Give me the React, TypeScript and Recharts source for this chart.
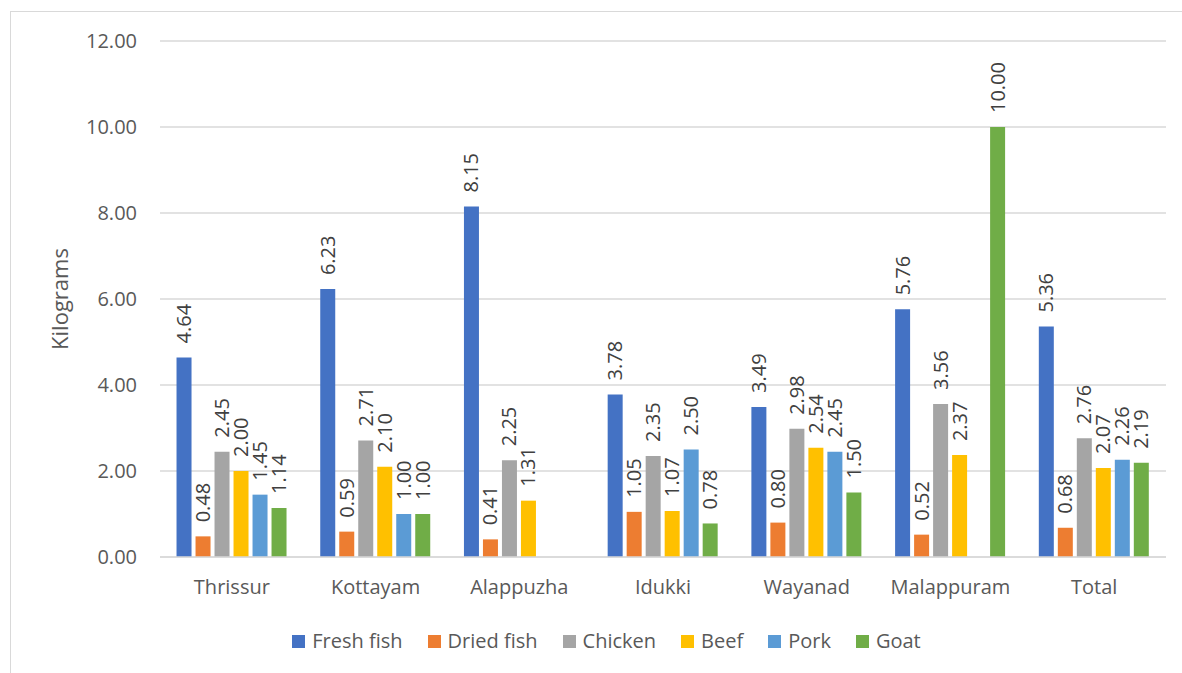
import { Bar, BarChart, CartesianGrid, LabelList, Legend, XAxis, YAxis } from 'recharts'

// per-capita monthly consumption by district, kilograms
const districts = ['Thrissur', 'Kottayam', 'Alappuzha', 'Idukki', 'Wayanad', 'Malappuram', 'Total']
const freshFish = [4.64, 6.23, 8.15, 3.78, 3.49, 5.76, 5.36]
const driedFish = [0.48, 0.59, 0.41, 1.05, 0.8, 0.52, 0.68]
const chicken = [2.45, 2.71, 2.25, 2.35, 2.98, 3.56, 2.76]
const beef = [2.0, 2.1, 1.31, 1.07, 2.54, 2.37, 2.07]
const pork = [1.45, 1.0, null, 2.5, 2.45, null, 2.26]
const goat = [1.14, 1.0, null, 0.78, 1.5, 10.0, 2.19]
const yTicks = [0, 2, 4, 6, 8, 10, 12]

const series = [
  { key: 'freshFish', name: 'Fresh fish', color: '#4472C4' },
  { key: 'driedFish', name: 'Dried fish', color: '#ED7D31' },
  { key: 'chicken', name: 'Chicken', color: '#A5A5A5' },
  { key: 'beef', name: 'Beef', color: '#FFC000' },
  { key: 'pork', name: 'Pork', color: '#5B9BD5' },
  { key: 'goat', name: 'Goat', color: '#70AD47' },
]

const data = districts.map((d, i) => ({
  district: d,
  freshFish: freshFish[i],
  driedFish: driedFish[i],
  chicken: chicken[i],
  beef: beef[i],
  pork: pork[i],
  goat: goat[i],
}))

const FONT = '"Open Sans", sans-serif'
const AXIS_TEXT = '#595959'

function ValueLabel(props: any) {
  const { x, y, width, value } = props
  if (value == null) return null
  const cx = Number(x) + Number(width) / 2
  const top = Number(y)
  return (
    <text
      transform={`translate(${cx + 7},${top - 14}) rotate(-90)`}
      textAnchor="start"
      fontFamily={FONT}
      fontSize={20}
      fill="#404040"
    >
      {Number(value).toFixed(2)}
    </text>
  )
}

// legend keeps the series order instead of the library's sorted payload
function LegendBox() {
  return (
    <div style={{ display: 'flex', justifyContent: 'center', alignItems: 'center', fontFamily: FONT }}>
      {series.map((s) => (
        <div key={s.key} style={{ display: 'flex', alignItems: 'center', marginRight: 25 }}>
          <span style={{ width: 13, height: 13, background: s.color, marginRight: 7, display: 'inline-block' }} />
          <span style={{ fontSize: 20, color: AXIS_TEXT, lineHeight: '26px' }}>{s.name}</span>
        </div>
      ))}
    </div>
  )
}

export default function App() {
  return (
    <div style={{ position: 'fixed', left: 0, top: 0, width: 1182, height: 673, background: '#fff', overflow: 'hidden' }}>
      <div
        style={{
          position: 'absolute',
          left: 10,
          top: 11,
          right: -10,
          bottom: -10,
          borderLeft: '1.5px solid #d9d9d9',
          borderTop: '1.5px solid #d9d9d9',
        }}
      />
      <div style={{ position: 'absolute', left: 0, top: 0 }}>
        <BarChart
          width={1182}
          height={673}
          data={data}
          margin={{ top: 41, right: 16, left: 0, bottom: 76 }}
          barGap={4}
          barCategoryGap="11.5%"
        >
          <CartesianGrid vertical={false} stroke="#d9d9d9" strokeWidth={1.5} />
          <XAxis
            dataKey="district"
            height={40}
            tickLine={false}
            axisLine={{ stroke: '#d9d9d9', strokeWidth: 1.5 }}
            tickSize={6}
            tickMargin={17}
            tick={{ fill: AXIS_TEXT, fontSize: 20, fontFamily: FONT }}
            interval={0}
          />
          <YAxis
            width={160}
            domain={[0, 12]}
            ticks={yTicks}
            tickFormatter={(v: number) => v.toFixed(2)}
            tickLine={false}
            axisLine={false}
            tickSize={6}
            tickMargin={17}
            tick={{ fill: AXIS_TEXT, fontSize: 20, fontFamily: FONT }}
            label={{
              value: 'Kilograms',
              angle: -90,
              position: 'center',
              dx: -20,
              fill: AXIS_TEXT,
              fontSize: 22,
              fontFamily: FONT,
            }}
          />
          <Legend
            verticalAlign="middle"
            align="center"
            content={<LegendBox />}
            wrapperStyle={{ left: 44, top: 628, width: 1150 }}
          />
          {series.map((s) => (
            <Bar key={s.key} dataKey={s.key} name={s.name} fill={s.color} isAnimationActive={false}>
              <LabelList dataKey={s.key} content={<ValueLabel />} />
            </Bar>
          ))}
        </BarChart>
      </div>
    </div>
  )
}
